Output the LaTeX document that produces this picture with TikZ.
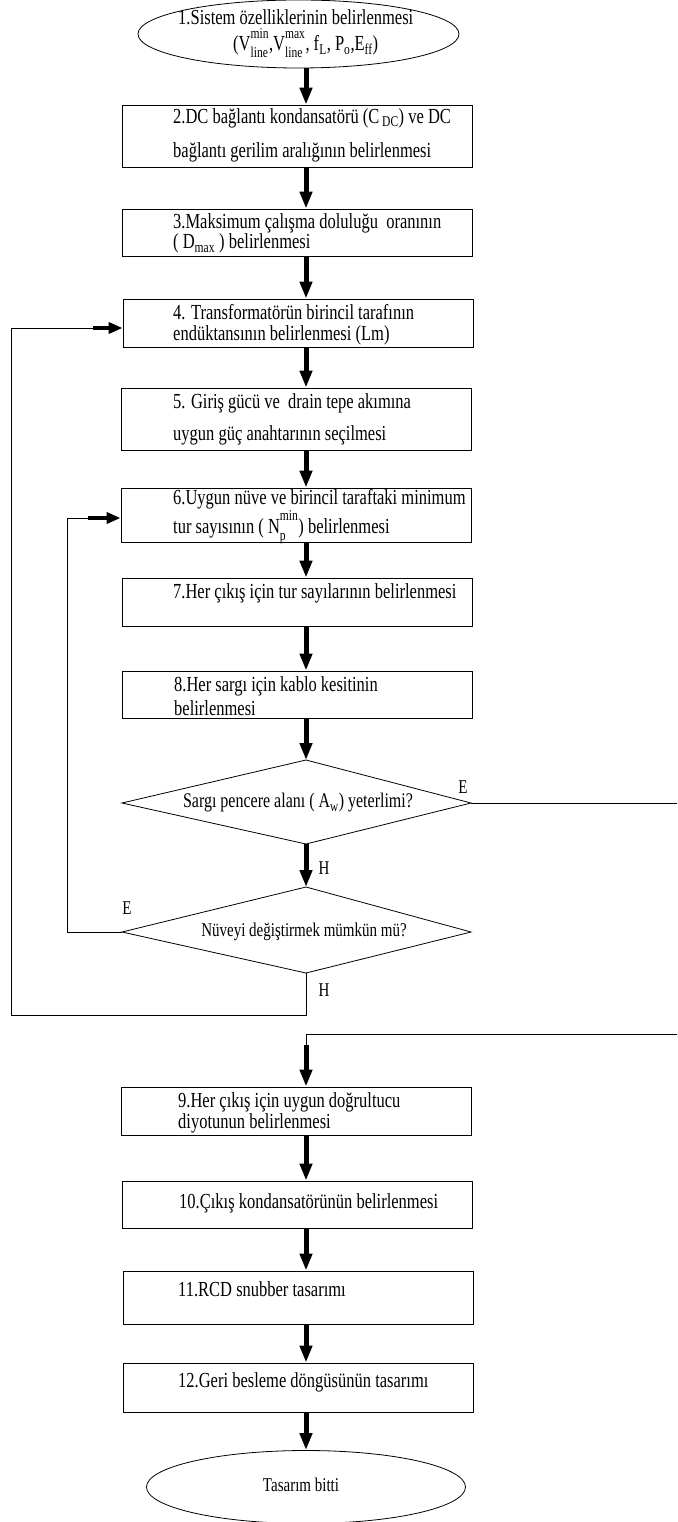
\documentclass[tikz,border=0pt]{standalone}
\usepackage{fontspec}
\setmainfont{Liberation Serif}
\usetikzlibrary{arrows.meta,positioning,shapes.geometric}
\newcommand\lohi[2]{\rlap{\raisebox{-0.35ex}{\textsubscript{#1}}}\raisebox{0.45ex}{\textsuperscript{#2}}}

\begin{document}
\begin{tikzpicture}[x=1pt,y=-1pt,>=Stealth,
    box/.style={draw,line width=0.8pt,minimum width=350pt,inner sep=0pt},
    term/.style={draw,ellipse,line width=0.8pt,inner sep=0pt},
    txt/.style={anchor=west,align=left,inner sep=0pt,yscale=1.3,font=\fontsize{16.5}{#1}\selectfont},
    txt/.default=16,
    lbl/.style={inner sep=0pt,yscale=1.3,font=\fontsize{15}{16}\selectfont},
    flow/.style={line width=5pt,-{Triangle[width=12pt,length=17pt]}},
    hflow/.style={line width=4pt,-{Triangle[width=11pt,length=14pt]}},
    link/.style={line width=0.8pt}]
  \useasboundingbox (0,0) rectangle (677,1522);
  \coordinate (axis) at (306,0);

  \node[term,minimum width=321pt,minimum height=68pt] (S1) at (298.5,34) {};
  \node[txt=20] (S1t) at (178,34) {1.Sistem özelliklerinin belirlenmesi\\
    \hspace*{55pt}(V\lohi{line}{min},V\lohi{line}{max}, f\textsubscript{L}, P\textsubscript{o},E\textsubscript{ff})};

  \node[box,minimum height=62pt] (S2) at (297,136) {};
  \node[txt=26] (S2t) at (173,135) {2.DC bağlantı kondansatörü (C\,\textsubscript{DC}) ve DC\\
    bağlantı gerilim aralığının belirlenmesi};

  \node[box,minimum height=47pt] (S3) at (297,232.5) {};
  \node[txt=15.5] (S3t) at (173,233.5) {3.Maksimum çalışma doluluğu\ \ oranının\\
    ( D\textsubscript{max} ) belirlenmesi};

  \node[box,minimum height=48pt] (S4) at (298,323) {};
  \node[txt=16] (S4t) at (173,324.5) {4. Transformatörün birincil tarafının\\
    endüktansının belirlenmesi (Lm)};

  \node[box,minimum height=62pt] (S5) at (296,419) {};
  \node[txt=24.6] (S5t) at (173,419) {5. Giriş gücü ve\ \ drain tepe akımına\\
    uygun güç anahtarının seçilmesi};

  \node[box,minimum height=54pt] (S6) at (296,515) {};
  \node[txt=20.8] (S6t) at (173,516.5) {6.Uygun nüve ve birincil taraftaki minimum\\
    tur sayısının ( N\lohi{p}{min}) belirlenmesi};

  \node[box,minimum height=48pt] (S7) at (297,602) {};
  \node[txt] (S7t) at (173,593) {7.Her çıkış için tur sayılarının belirlenmesi};

  \node[box,minimum height=47pt] (S8) at (297,694.5) {};
  \node[txt=18.5] (S8t) at (174,696) {8.Her sargı için kablo kesitinin\\
    belirlenmesi};

  \coordinate (Q1n) at (306,760);
  \coordinate (Q1e) at (471,803);
  \coordinate (Q1s) at (306,844);
  \coordinate (Q1w) at (122,803);
  \draw[link] (Q1n) -- (Q1e) -- (Q1s) -- (Q1w) -- cycle;
  \node[lbl,font=\fontsize{16}{17}\selectfont] (Q1) at (298,803) {Sargı pencere alanı ( A\textsubscript{w}) yeterlimi?};

  \coordinate (Q2n) at (306,887);
  \coordinate (Q2e) at (471,932);
  \coordinate (Q2s) at (306,973);
  \coordinate (Q2w) at (122,932);
  \draw[link] (Q2n) -- (Q2e) -- (Q2s) -- (Q2w) -- cycle;
  \node[lbl] (Q2) at (304,932) {Nüveyi değiştirmek mümkün mü?};

  \node[box,minimum height=48pt] (S9) at (296,1111) {};
  \node[txt=16] (S9t) at (178,1113) {9.Her çıkış için uygun doğrultucu\\
    diyotunun belirlenmesi};

  \node[box,minimum height=47pt] (S10) at (297,1204.5) {};
  \node[txt] (S10t) at (179,1203) {10.Çıkış kondansatörünün belirlenmesi};

  \node[box,minimum height=53pt] (S11) at (298,1297.5) {};
  \node[txt] (S11t) at (178,1289) {11.RCD snubber tasarımı};

  \node[box,minimum height=49pt] (S12) at (298,1387.5) {};
  \node[txt] (S12t) at (178,1382) {12.Geri besleme döngüsünün tasarımı};

  \node[term,minimum width=319pt,minimum height=73pt] (END) at (306,1487) {};
  \node[lbl] (ENDt) at (301,1485) {Tasarım bitti};

  \draw[flow] (S1.south -| axis) -- (S2.north -| axis);
  \draw[flow] (S2.south -| axis) -- (S3.north -| axis);
  \draw[flow] (S3.south -| axis) -- (S4.north -| axis);
  \draw[flow] (S4.south -| axis) -- (S5.north -| axis);
  \draw[flow] (S5.south -| axis) -- (S6.north -| axis);
  \draw[flow] (S6.south -| axis) -- (S7.north -| axis);
  \draw[flow] (S7.south -| axis) -- (S8.north -| axis);
  \draw[flow] (S8.south -| axis) -- (Q1n);
  \draw[flow] (Q1s) -- (Q2n);
  \node[lbl] (H1) at (324,868) {H};

  \coordinate (R1) at (677,803);
  \draw[link] (Q1e) -- (R1);
  \node[lbl] (E1) at (463,787) {E};

  \coordinate (L6a) at (67,932);
  \coordinate (L6b) at (88,518);
  \draw[link] (Q2w) -- (L6a) |- (L6b);
  \draw[hflow] (L6b) -- (S6.west |- L6b);
  \node[lbl] (E2) at (127,908) {E};

  \coordinate (L4a) at (11,1015);
  \coordinate (L4b) at (93,328);
  \draw[link] (Q2s) |- (L4a) |- (L4b);
  \draw[hflow] (L4b) -- (S4.west |- L4b);
  \node[lbl] (H2) at (324,990) {H};

  \coordinate (R2) at (677,1034);
  \coordinate (J) at (306,1045);
  \draw[link] (R2) -| (J);
  \draw[flow] (J) -- (S9.north -| axis);

  \draw[flow] (S9.south -| axis) -- (S10.north -| axis);
  \draw[flow] (S10.south -| axis) -- (S11.north -| axis);
  \draw[flow] (S11.south -| axis) -- (S12.north -| axis);
  \draw[flow] (S12.south -| axis) -- (END.north -| axis);
\end{tikzpicture}
\end{document}
